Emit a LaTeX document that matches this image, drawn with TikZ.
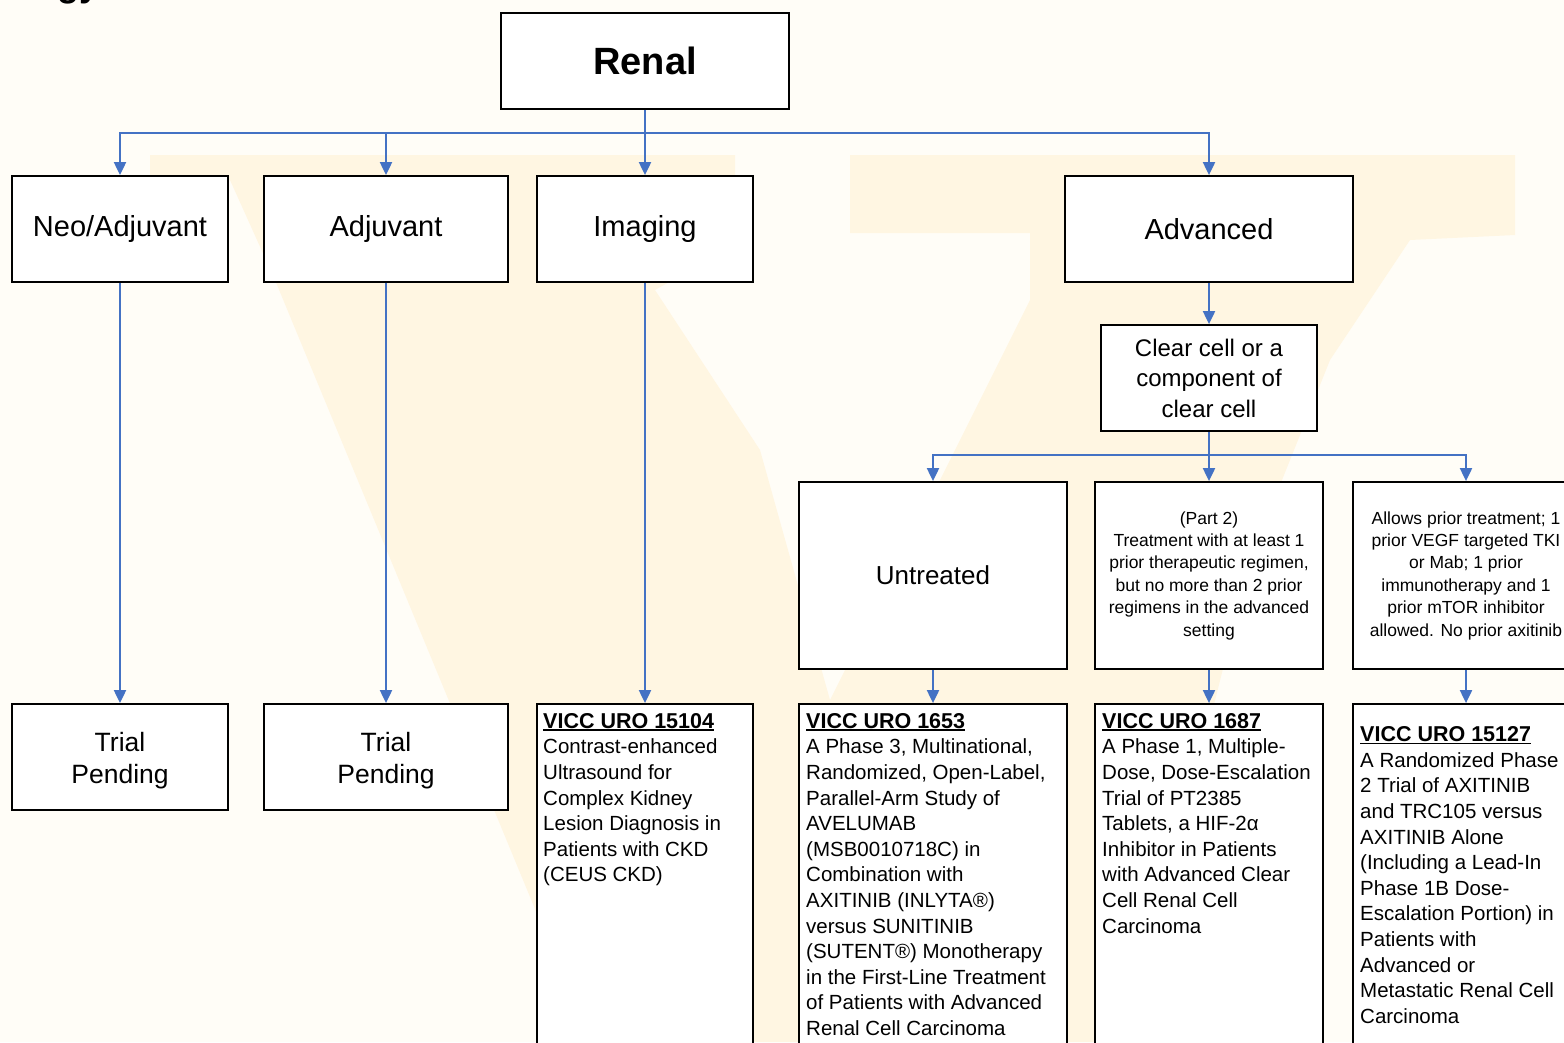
\documentclass[tikz,border=0pt]{standalone}
\usepackage{fontspec}
\setmainfont{Liberation Sans}
\usetikzlibrary{arrows.meta}
\definecolor{bgc}{HTML}{FFFDF7}
\definecolor{wmc}{HTML}{FFF6E2}
\definecolor{connc}{HTML}{4472C4}
\newcommand\myul[1]{\setbox0\hbox{#1}\rlap{\rule[-2.6pt]{\wd0}{1.5pt}}\box0}
\begin{document}
\begin{tikzpicture}[x=1pt,y=-1pt,
  box/.style={draw=black, line width=1.8pt, fill=white, inner sep=0pt, align=center},
  link/.style={draw=connc, line width=2pt},
  arr/.style={link, -{Triangle[width=12pt,length=13pt]}},
  topf/.style={font=\fontsize{29}{34}\selectfont},
  pendf/.style={font=\fontsize{26.5}{32}\selectfont, inner sep=0pt, align=center},
  smallf/.style={font=\fontsize{17.5}{22.4}\selectfont},
  vtxt/.style={inner sep=0pt, align=left, anchor=north west, font=\fontsize{20.5}{25.6}\selectfont},
]
\useasboundingbox (0,0) rectangle (1564,1042);
\fill[bgc] (0,0) rectangle (1564,1042);
% watermark
\fill[wmc] (150,155) -- (735,155) -- (735,245) -- (655,290) -- (760,450) -- (830,700) -- (830,1042) -- (590,1042) -- (275,280) -- (230,180) -- (150,180) -- cycle;
\fill[wmc] (850,155) -- (1515,155) -- (1515,235) -- (1410,240) -- (1330,360) -- (1250,560) -- (1130,1042) -- (830,1042) -- (830,700) -- (960,440) -- (1030,300) -- (1030,233) -- (850,233) -- cycle;
% title fragment
\node[inner sep=0pt, anchor=base west, font=\fontsize{36}{40}\selectfont\bfseries] (frag) at (57,-3.6) {gy};
% top
\node[box, minimum width=288pt, minimum height=96pt, font=\fontsize{38}{44}\selectfont\bfseries] (renal) at (645,61) {Renal};
\node[box, topf, minimum width=216pt, minimum height=106pt] (neo) at (120,229) {Neo/Adjuvant};
\node[box, topf, minimum width=244pt, minimum height=106pt] (adj) at (386,229) {Adjuvant};
\node[box, topf, minimum width=216pt, minimum height=106pt] (img) at (645,229) {Imaging};
\node[box, topf, minimum width=288pt, minimum height=106pt] (adv) at (1209,229) {Advanced};
\node[box, minimum width=216pt, minimum height=106pt, font=\fontsize{24}{30.5}\selectfont] (clear) at (1209,378) {Clear cell or a\\component of\\clear cell};
% second level
\node[box, minimum width=268pt, minimum height=187pt, font=\fontsize{26}{31}\selectfont] (untr) at (933,575.5) {Untreated};
\node[box, smallf, minimum width=228pt, minimum height=187pt] (part2) at (1209,575.5) {(Part 2)\\Treatment with at least 1\\prior therapeutic regimen,\\but no more than 2 prior\\regimens in the advanced\\setting};
\node[box, smallf, minimum width=226pt, minimum height=187pt] (allow) at (1466,575.5) {Allows prior treatment; 1\\prior VEGF targeted TKI\\or Mab; 1 prior\\immunotherapy and 1\\prior mTOR inhibitor\\allowed. No prior axitinib};
% bottom
\node[box, minimum width=216pt, minimum height=106pt] (tp1) at (120,757) {};
\node[pendf] (tp1t) at (120,761) {Trial\\Pending};
\node[box, minimum width=244pt, minimum height=106pt] (tp2) at (386,757) {};
\node[pendf] (tp2t) at (386,761) {Trial\\Pending};
\node[box, minimum width=216pt, minimum height=400pt] (v15104) at (645,904) {};
\node[box, minimum width=268pt, minimum height=400pt] (v1653) at (933,904) {};
\node[box, minimum width=228pt, minimum height=400pt] (v1687) at (1209,904) {};
\node[box, minimum width=226pt, minimum height=400pt] (v15127) at (1466,904) {};
\node[vtxt] (t15104) at (543,713) {{\fontsize{21.5}{25.6}\selectfont\bfseries\myul{VICC URO 15104}}\\Contrast-enhanced\\Ultrasound for\\Complex Kidney\\Lesion Diagnosis in\\Patients with CKD\\(CEUS CKD)};
\node[vtxt] (t1653) at (806,713) {{\fontsize{21.5}{25.6}\selectfont\bfseries\myul{VICC URO 1653}}\\A Phase 3, Multinational,\\Randomized, Open-Label,\\Parallel-Arm Study of\\AVELUMAB\\(MSB0010718C) in\\Combination with\\AXITINIB (INLYTA®)\\versus SUNITINIB\\(SUTENT®) Monotherapy\\in the First-Line Treatment\\of Patients with Advanced\\Renal Cell Carcinoma};
\node[vtxt] (t1687) at (1102,713) {{\fontsize{21.5}{25.6}\selectfont\bfseries\myul{VICC URO 1687}}\\A Phase 1, Multiple-\\Dose, Dose-Escalation\\Trial of PT2385\\Tablets, a HIF-2α\\Inhibitor in Patients\\with Advanced Clear\\Cell Renal Cell\\Carcinoma};
\node[vtxt] (t15127) at (1360,726.5) {{\fontsize{21.5}{25.6}\selectfont\bfseries\myul{VICC URO 15127}}\\A Randomized Phase\\2 Trial of AXITINIB\\and TRC105 versus\\AXITINIB Alone\\(Including a Lead-In\\Phase 1B Dose-\\Escalation Portion) in\\Patients with\\Advanced or\\Metastatic Renal Cell\\Carcinoma};
% connectors
\coordinate (b1) at (645,133);
\draw[link] (renal.south) -- (b1);
\draw[arr] (b1) -| (neo.north);
\draw[arr] (b1) -| (adj.north);
\draw[arr] (b1) -- (img.north);
\draw[arr] (b1) -| (adv.north);
\draw[arr] (neo.south) -- (tp1.north);
\draw[arr] (adj.south) -- (tp2.north);
\draw[arr] (img.south) -- (v15104.north);
\draw[arr] (adv.south) -- (clear.north);
\coordinate (b2) at (1209,455);
\draw[link] (clear.south) -- (b2);
\draw[arr] (b2) -| (untr.north);
\draw[arr] (b2) -- (part2.north);
\draw[arr] (b2) -| (allow.north);
\draw[arr] (untr.south) -- (v1653.north);
\draw[arr] (part2.south) -- (v1687.north);
\draw[arr] (allow.south) -- (v15127.north);
\end{tikzpicture}
\end{document}
